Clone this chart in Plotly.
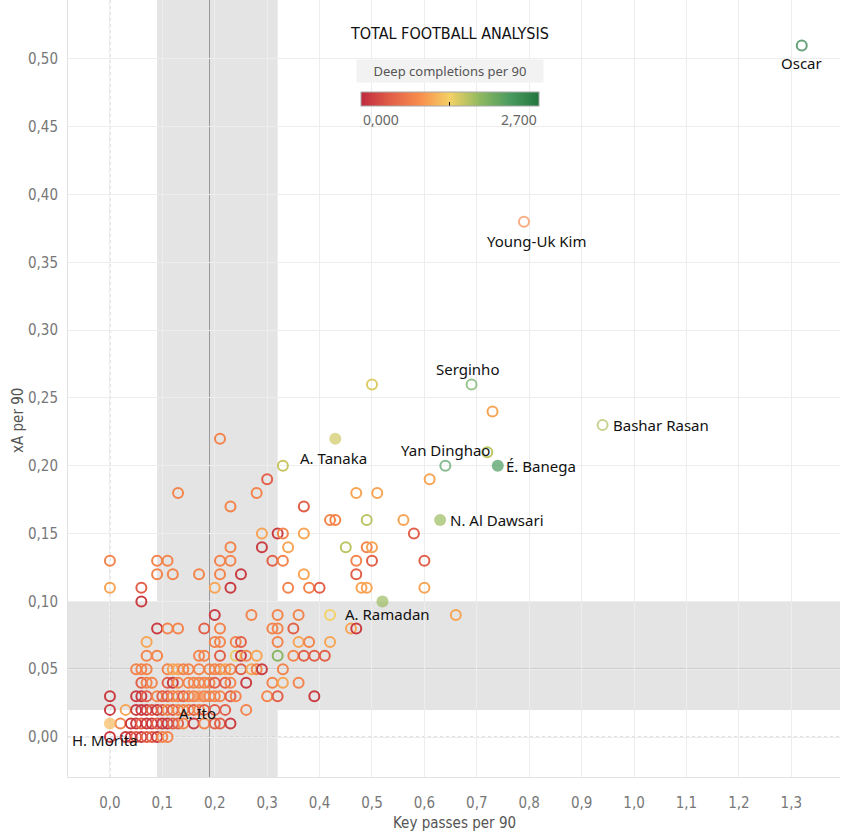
import plotly.graph_objects as go

# ---------------- data ----------------
# unlabelled players: key passes per 90, xA per 90, deep completions per 90
kp = [
    0.50, 0.73, 0.21, 0.72, 0.33,
    0.30, 0.61,
    0.13, 0.28, 0.47, 0.51,
    0.23, 0.37,
    0.42, 0.43, 0.49, 0.56,
    0.29, 0.32, 0.33, 0.37, 0.58,
    0.23, 0.29, 0.34, 0.45, 0.49, 0.50,
    0.00, 0.09, 0.11, 0.21, 0.23, 0.31, 0.33, 0.47, 0.50, 0.60,
    0.09, 0.12, 0.17, 0.21, 0.25, 0.37, 0.47,
    0.00, 0.06, 0.20, 0.23, 0.34, 0.38, 0.40, 0.48, 0.49, 0.60,
    0.06,
    0.20, 0.27, 0.32, 0.36, 0.42, 0.66,
    0.09, 0.11, 0.13, 0.18, 0.21, 0.31, 0.32, 0.35, 0.46, 0.47,
    0.07, 0.20, 0.21, 0.24, 0.25, 0.32, 0.36, 0.38, 0.42,
    0.07, 0.09, 0.17, 0.18, 0.21, 0.24, 0.25, 0.26, 0.28, 0.32, 0.35, 0.37, 0.39, 0.41,
    0.05, 0.06, 0.07, 0.11, 0.12, 0.13, 0.14, 0.15, 0.17, 0.19, 0.20, 0.21, 0.22, 0.23, 0.25, 0.27, 0.28, 0.29, 0.33,
    0.06, 0.07, 0.08, 0.11, 0.12, 0.13, 0.15, 0.16, 0.17, 0.18, 0.19, 0.20, 0.22, 0.23, 0.26, 0.31, 0.33, 0.36,
    0.00, 0.05, 0.06, 0.07, 0.09, 0.10, 0.11, 0.12, 0.13, 0.14, 0.15, 0.16, 0.18, 0.19, 0.20, 0.21, 0.23, 0.24, 0.30, 0.32, 0.39,
    0.00, 0.03, 0.05, 0.06, 0.07, 0.08, 0.09, 0.10, 0.11, 0.12, 0.13, 0.14, 0.15, 0.16, 0.17, 0.18, 0.20, 0.22, 0.26,
    0.02, 0.04, 0.05, 0.06, 0.07, 0.08, 0.09, 0.10, 0.11, 0.12, 0.13, 0.14, 0.16, 0.18, 0.20, 0.21, 0.23,
    0.00, 0.03, 0.04, 0.05, 0.06, 0.07, 0.08, 0.09, 0.10, 0.11,
]
xa = [
    0.26, 0.24, 0.22, 0.21, 0.20,
    0.19, 0.19,
    0.18, 0.18, 0.18, 0.18,
    0.17, 0.17,
    0.16, 0.16, 0.16, 0.16,
    0.15, 0.15, 0.15, 0.15, 0.15,
    0.14, 0.14, 0.14, 0.14, 0.14, 0.14,
    0.13, 0.13, 0.13, 0.13, 0.13, 0.13, 0.13, 0.13, 0.13, 0.13,
    0.12, 0.12, 0.12, 0.12, 0.12, 0.12, 0.12,
    0.11, 0.11, 0.11, 0.11, 0.11, 0.11, 0.11, 0.11, 0.11, 0.11,
    0.10,
    0.09, 0.09, 0.09, 0.09, 0.09, 0.09,
    0.08, 0.08, 0.08, 0.08, 0.08, 0.08, 0.08, 0.08, 0.08, 0.08,
    0.07, 0.07, 0.07, 0.07, 0.07, 0.07, 0.07, 0.07, 0.07,
    0.06, 0.06, 0.06, 0.06, 0.06, 0.06, 0.06, 0.06, 0.06, 0.06, 0.06, 0.06, 0.06, 0.06,
    0.05, 0.05, 0.05, 0.05, 0.05, 0.05, 0.05, 0.05, 0.05, 0.05, 0.05, 0.05, 0.05, 0.05, 0.05, 0.05, 0.05, 0.05, 0.05,
    0.04, 0.04, 0.04, 0.04, 0.04, 0.04, 0.04, 0.04, 0.04, 0.04, 0.04, 0.04, 0.04, 0.04, 0.04, 0.04, 0.04, 0.04,
    0.03, 0.03, 0.03, 0.03, 0.03, 0.03, 0.03, 0.03, 0.03, 0.03, 0.03, 0.03, 0.03, 0.03, 0.03, 0.03, 0.03, 0.03, 0.03, 0.03, 0.03,
    0.02, 0.02, 0.02, 0.02, 0.02, 0.02, 0.02, 0.02, 0.02, 0.02, 0.02, 0.02, 0.02, 0.02, 0.02, 0.02, 0.02, 0.02, 0.02,
    0.01, 0.01, 0.01, 0.01, 0.01, 0.01, 0.01, 0.01, 0.01, 0.01, 0.01, 0.01, 0.01, 0.01, 0.01, 0.01, 0.01,
    0.00, 0.00, 0.00, 0.00, 0.00, 0.00, 0.00, 0.00, 0.00, 0.00,
]
dc = [
    1.45, 1.05, 0.80, 1.60, 1.55,
    0.45, 1.05,
    0.80, 0.80, 1.05, 1.05,
    0.80, 0.45,
    0.80, 0.80, 1.60, 1.05,
    1.05, 0.15, 0.80, 1.05, 0.45,
    0.80, 0.15, 1.05, 1.60, 0.80, 1.05,
    0.80, 0.80, 0.80, 0.80, 0.80, 0.45, 0.80, 0.80, 0.45, 0.45,
    0.80, 0.80, 0.80, 0.80, 0.15, 1.05, 0.45,
    1.05, 0.45, 1.05, 0.15, 0.80, 0.80, 0.45, 1.05, 1.05, 1.05,
    0.15,
    0.15, 0.80, 0.80, 0.80, 1.35, 1.05,
    0.15, 0.80, 0.80, 0.45, 0.80, 0.80, 0.80, 0.45, 1.05, 0.15,
    1.05, 0.80, 0.80, 0.80, 0.45, 0.80, 1.05, 0.80, 1.05,
    0.80, 0.80, 0.80, 0.80, 0.45, 1.40, 0.15, 0.80, 1.05, 1.85, 0.80, 0.45, 0.45, 0.45,
    0.80, 0.80, 0.80, 0.80, 1.05, 1.05, 0.80, 0.80, 0.80, 0.80, 0.80, 0.80, 1.05, 0.80, 0.45, 1.05, 0.80, 0.15, 0.80,
    0.45, 0.80, 0.80, 0.45, 0.15, 0.80, 0.80, 0.80, 0.80, 0.80, 0.80, 0.45, 0.45, 0.80, 0.15, 0.80, 1.05, 0.80,
    0.15, 0.15, 0.15, 0.45, 0.80, 0.45, 0.45, 0.80, 0.80, 0.45, 0.80, 0.80, 0.80, 0.80, 0.80, 0.80, 0.45, 0.80, 0.80, 0.45, 0.15,
    0.15, 1.05, 0.15, 0.15, 0.15, 0.45, 0.15, 0.45, 0.80, 0.45, 0.80, 0.80, 0.80, 0.45, 0.80, 0.45, 0.45, 0.45, 0.80,
    0.80, 0.15, 0.15, 0.45, 0.15, 0.15, 0.45, 0.15, 0.15, 0.45, 0.45, 0.80, 0.15, 0.80, 0.45, 0.45, 0.15,
    0.15, 0.15, 0.15, 0.45, 0.15, 0.45, 0.45, 0.15, 0.80, 0.80,
]

# labelled players
names = ["Oscar", "Young-Uk Kim", "Serginho", "Bashar Rasan", "A. Tanaka", "Yan Dinghao",
         "É. Banega", "N. Al Dawsari", "A. Ramadan", "A. Ito", "H. Morita"]
named_kp = [1.32, 0.79, 0.69, 0.94, 0.43, 0.64, 0.74, 0.63, 0.52, 0.17, 0.00]
named_xa = [0.51, 0.38, 0.26, 0.23, 0.22, 0.20, 0.20, 0.16, 0.10, 0.03, 0.01]
named_dc = [2.65, 0.85, 2.00, 1.65, 1.52, 2.20, 2.25, 1.75, 1.75, 0.85, 1.20]
named_filled = [False, False, False, False, True, False, True, True, True, True, True]

x_ticks = [0.0, 0.1, 0.2, 0.3, 0.4, 0.5, 0.6, 0.7, 0.8, 0.9, 1.0, 1.1, 1.2, 1.3]
y_ticks = [0.00, 0.05, 0.10, 0.15, 0.20, 0.25, 0.30, 0.35, 0.40, 0.45, 0.50]
dc_min, dc_max = 0.0, 2.7
median_kp, median_xa = 0.19, 0.05
band_kp = [0.09, 0.32]
band_xa = [0.02, 0.10]

# ---------------- styling ----------------
colorscale = [[0.0, "#be2a3e"], [1/6, "#e25f48"], [2/6, "#f88f4d"], [3/6, "#f4d166"],
              [4/6, "#90b960"], [5/6, "#4b9b5f"], [1.0, "#22763f"]]
NARROW = "Liberation Sans Narrow, DejaVu Sans Condensed, Arial Narrow, sans-serif"
LABEL_FONT = "Noto Sans, Open Sans, sans-serif"

label_pos = {  # xshift, yshift (px), xanchor
    "Oscar": (0, -18, "center"),
    "Young-Uk Kim": (13, -19, "center"),
    "Serginho": (-4, 15, "center"),
    "Bashar Rasan": (8, 0, "left"),
    "A. Tanaka": (-2, -19, "center"),
    "Yan Dinghao": (0, 16, "center"),
    "É. Banega": (6, 0, "left"),
    "N. Al Dawsari": (8, 0, "left"),
    "A. Ramadan": (-39, -13, "left"),
    "A. Ito": (-2, -17, "center"),
    "H. Morita": (-5, -17, "center"),
}

fig = go.Figure()

fig.add_trace(go.Scatter(
    x=kp, y=xa, mode="markers",
    marker=dict(symbol="circle-open", size=10, line=dict(width=2),
                color=dc, colorscale=colorscale, cmin=dc_min, cmax=dc_max,
                showscale=True,
                colorbar=dict(orientation="h", x=0.4948, xanchor="center",
                              y=0.8816, yanchor="top", lenmode="pixels", len=178,
                              thickness=14, xpad=0, ypad=0,
                              outlinecolor="#a8a8a8", outlinewidth=1,
                              tickvals=[(dc_min + dc_max) / 2], ticks="inside",
                              ticklen=4, tickcolor="#000", tickwidth=1,
                              showticklabels=False)),
    hoverinfo="skip", showlegend=False))

sym = ["circle" if f else "circle-open" for f in named_filled]
lw = [0 if f else 2 for f in named_filled]
msize = [12 if f else 10 for f in named_filled]
fig.add_trace(go.Scatter(
    x=named_kp, y=named_xa, mode="markers",
    marker=dict(symbol=sym, size=msize, line=dict(width=lw),
                color=named_dc, colorscale=colorscale, cmin=dc_min, cmax=dc_max,
                showscale=False),
    hoverinfo="skip", showlegend=False))

for n, x, y in zip(names, named_kp, named_xa):
    xs, ys, xa_ = label_pos[n]
    fig.add_annotation(x=x, y=y, text=n, showarrow=False, xshift=xs, yshift=ys,
                       xanchor=xa_, yanchor="middle",
                       font=dict(family=LABEL_FONT, size=15, color="#111"))

shapes = [
    dict(type="rect", xref="x", yref="paper", x0=band_kp[0], x1=band_kp[1], y0=0, y1=1,
         fillcolor="#e4e4e4", line=dict(width=0), layer="below"),
    dict(type="rect", xref="paper", yref="y", x0=0, x1=1, y0=band_xa[0], y1=band_xa[1],
         fillcolor="#e4e4e4", line=dict(width=0), layer="below"),
    dict(type="line", xref="x", yref="paper", x0=0, x1=0, y0=0, y1=1,
         line=dict(color="#c4c4c4", width=1, dash="dot"), layer="between"),
    dict(type="line", xref="paper", yref="y", x0=0, x1=1, y0=0, y1=0,
         line=dict(color="#c4c4c4", width=1, dash="dot"), layer="between"),
    dict(type="line", xref="x", yref="paper", x0=median_kp, x1=median_kp, y0=0, y1=1,
         line=dict(color="#9a9a9a", width=1), layer="between"),
    dict(type="line", xref="paper", yref="y", x0=0, x1=1, y0=median_xa, y1=median_xa,
         line=dict(color="#9a9a9a", width=1), layer="between"),
]

# legend / logo / axis titles
fig.add_annotation(xref="paper", yref="paper", x=0.4948, y=0.9575, text="TOTAL FOOTBALL ANALYSIS",
                   showarrow=False, xanchor="center", yanchor="middle",
                   font=dict(family=NARROW, size=16, color="#111"))
fig.add_annotation(xref="paper", yref="paper", x=0.4948, y=0.9086, text="Deep completions per 90",
                   showarrow=False, xanchor="center", yanchor="middle",
                   width=182, height=18, bgcolor="#f2f2f2", borderpad=2,
                   font=dict(family=LABEL_FONT, size=13, color="#555"))
fig.add_annotation(xref="paper", yref="paper", x=0.3795, y=0.8468, text="0,000",
                   showarrow=False, xanchor="left", yanchor="middle",
                   font=dict(family=LABEL_FONT, size=14, color="#666"))
fig.add_annotation(xref="paper", yref="paper", x=0.6101, y=0.8468, text="2,700",
                   showarrow=False, xanchor="right", yanchor="middle",
                   font=dict(family=LABEL_FONT, size=14, color="#666"))
fig.add_annotation(xref="paper", yref="paper", x=0.501, y=-0.0592, text="Key passes per 90",
                   showarrow=False, xanchor="center", yanchor="middle",
                   font=dict(family=NARROW, size=15, color="#555"))
fig.add_annotation(xref="paper", yref="paper", x=-0.0648, y=0.4595, text="xA per 90",
                   showarrow=False, xanchor="center", yanchor="middle", textangle=-90,
                   font=dict(family=NARROW, size=15, color="#555"))

fig.update_layout(
    width=845, height=835,
    margin=dict(l=68, r=5, t=0, b=58),
    plot_bgcolor="white", paper_bgcolor="white",
    separators=",.",
    shapes=shapes,
    xaxis=dict(range=[-0.080, 1.393], tickvals=x_ticks, tickformat=".1f",
               showgrid=True, gridcolor="#ededed", gridwidth=1, zeroline=False,
               showline=True, linecolor="#e2e2e2", linewidth=1, ticks="",
               ticklabelstandoff=12,
               tickfont=dict(family=NARROW, size=15, color="#777")),
    yaxis=dict(range=[-0.0295, 0.5435], tickvals=y_ticks, tickformat=".2f",
               showgrid=True, gridcolor="#ededed", gridwidth=1, zeroline=False,
               showline=True, linecolor="#e2e2e2", linewidth=1, ticks="",
               ticklabelstandoff=6,
               tickfont=dict(family=NARROW, size=15, color="#777")),
)

fig.write_html("out.html", config={"displayModeBar": False},
               post_script="document.body.style.margin='0';document.body.style.overflow='hidden';")
